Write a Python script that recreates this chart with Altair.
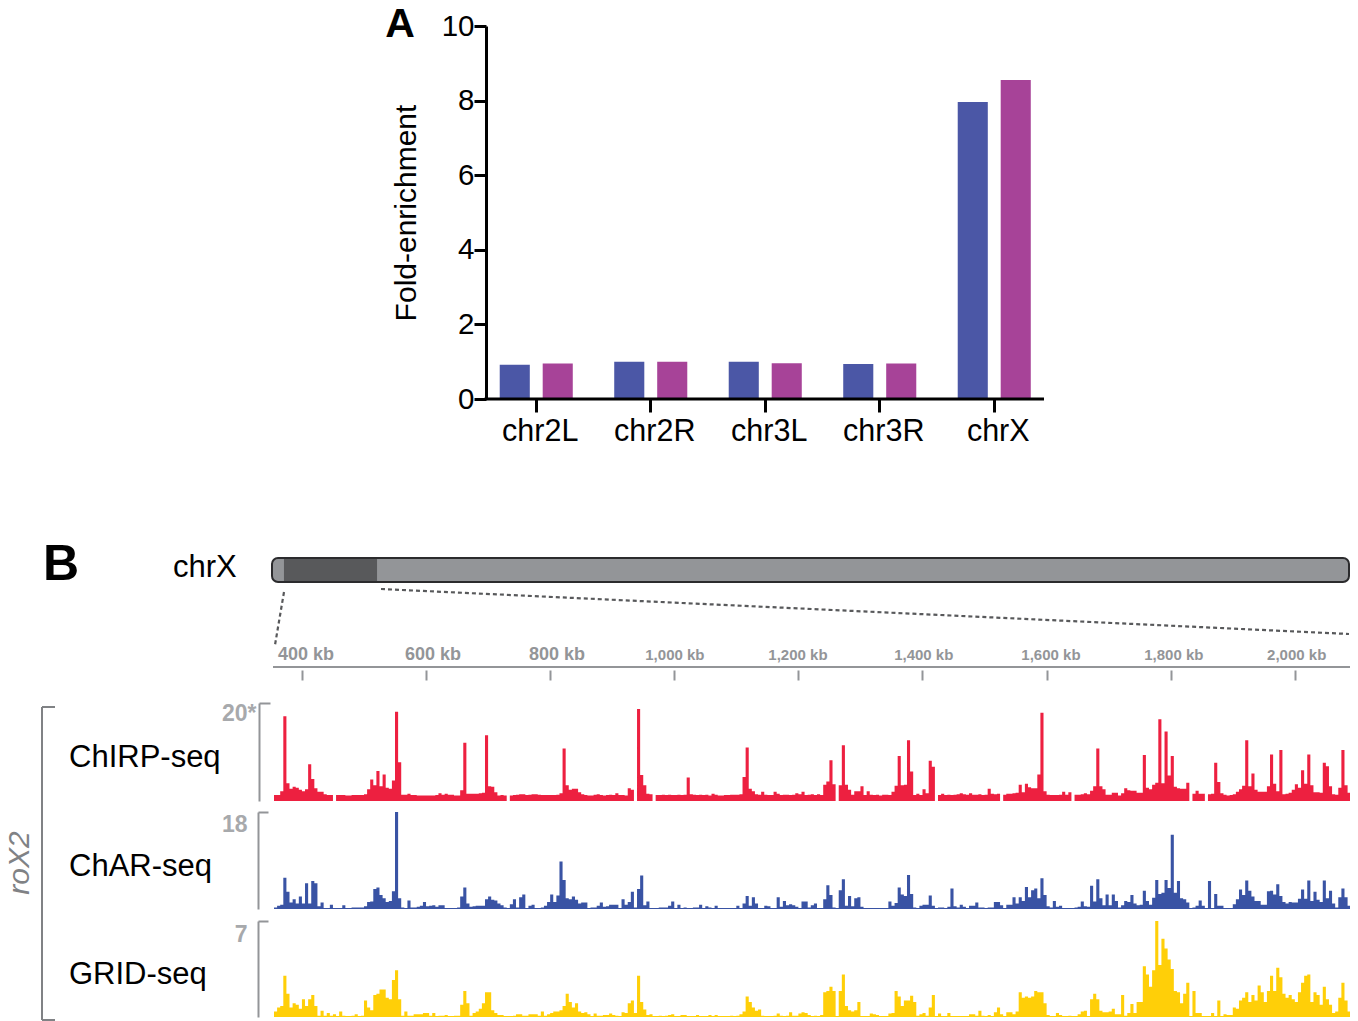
import altair as alt
import pandas as pd

FONT = "Liberation Sans"
W, H = 1342, 1013

chromosomes = ["chr2L", "chr2R", "chr3L", "chr3R", "chrX"]
series_names = ["ChIRP-seq", "ChAR-seq"]
enrich_a = [0.92, 1.0, 1.0, 0.94, 7.96]
enrich_b = [0.95, 1.0, 0.96, 0.95, 8.55]

tick_kb = [400, 600, 800, 1000, 1200, 1400, 1600, 1800, 2000]
tick_text = ["400 kb", "600 kb", "800 kb", "1,000 kb", "1,200 kb", "1,400 kb", "1,600 kb", "1,800 kb", "2,000 kb"]
label_kb = [406.6, 611.2, 811, 1001, 1199.3, 1402, 1607, 1805, 2003]
label_size = [18, 18, 18, 15, 15, 15, 15, 15, 15]

bin_start_kb = 355
bin_kb = 5

chirp = [
    1.2,1.2,2.0,17.3,3.6,2.5,2.9,2.7,2.3,2.0,
    2.4,7.5,4.5,2.6,1.9,1.9,1.4,1.2,1.2,0,
    1.2,1.2,1.2,1.1,1.1,1.2,1.2,1.2,1.2,1.4,
    2.4,4.4,3.2,6.1,3.0,5.4,2.7,2.5,4.2,18.2,
    7.9,1.3,1.3,1.5,1.2,1.2,1.1,1.1,1.1,1.1,
    1.1,1.1,1.2,1.6,1.3,1.5,1.3,1.3,1.1,1.1,
    2.2,11.9,1.5,1.5,1.5,1.5,1.6,1.7,13.4,3.0,
    2.9,1.8,1.1,1.2,1.1,0,1.1,1.2,1.3,1.4,
    1.4,1.2,1.3,1.4,1.4,1.3,1.2,1.2,1.2,1.2,
    1.2,1.3,1.6,10.7,3.2,2.3,2.5,2.5,1.8,1.4,
    1.2,1.1,1.1,1.3,1.4,1.2,1.1,1.2,1.3,1.2,
    1.6,1.2,1.2,1.1,2.6,2.3,0,18.8,5.3,3.2,
    1.5,1.4,0,1.2,1.2,1.3,1.2,1.3,1.2,1.2,
    1.3,1.2,1.3,4.8,1.4,1.3,1.2,1.3,1.2,1.3,
    1.1,1.5,1.3,1.1,1.1,1.2,1.2,1.3,1.3,1.3,
    1.4,4.9,10.9,2.5,2.0,1.4,1.3,1.9,1.3,1.2,
    1.2,1.9,1.5,1.2,1.3,1.3,1.2,1.3,1.6,1.4,
    1.9,1.2,1.3,1.4,1.2,1.4,1.2,3.3,4.0,8.3,
    3.4,0,3.2,11.4,3.3,2.3,1.3,2.0,2.0,3.0,
    1.2,2.0,1.3,1.2,1.3,1.1,1.3,1.3,1.2,1.9,
    3.1,9.2,3.2,3.3,12.4,6.0,1.2,1.5,1.2,2.4,
    1.6,8.2,7.0,0,1.2,1.5,1.2,1.3,1.2,1.3,
    1.4,1.6,1.4,1.3,1.6,1.3,1.3,1.4,1.2,1.3,
    2.5,1.5,1.4,1.5,0,1.3,1.5,1.5,1.6,1.7,
    3.3,1.8,3.5,2.8,2.6,2.6,5.4,18.0,2.0,1.3,
    1.2,1.2,1.2,1.3,1.9,1.3,1.8,0,1.3,1.3,
    1.4,1.6,1.4,2.1,3.0,10.7,3.0,2.4,1.3,1.3,
    1.7,1.7,1.1,1.6,2.6,2.2,2.1,2.1,1.7,1.7,
    9.4,2.7,2.4,3.3,3.7,16.7,3.6,14.2,5.2,9.2,
    2.9,2.6,2.5,2.5,3.7,0,1.5,2.1,1.5,1.5,
    0,1.4,1.5,7.8,3.9,1.6,1.3,1.1,1.2,1.4,
    1.9,2.4,3.1,12.4,3.0,5.6,2.3,1.9,1.9,1.9,
    3.0,9.5,3.5,2.0,10.4,1.4,1.5,1.7,2.3,3.4,
    2.7,6.3,3.5,9.5,3.2,1.8,1.8,1.7,7.8,7.1,
    3.0,1.4,1.3,2.7,10.4,3.2,1.7,1.6,1.5,1.5,
]

char = [
    .3,.6,.8,5.8,3.2,1.2,1.8,1.0,2.3,1.0,
    4.8,1.0,5.2,4.8,.5,1.2,.1,0,.8,.1,
    0,0,.7,.1,0,.3,.3,.3,.3,.5,
    1.3,1.4,3.7,4.0,2.6,2.0,1.3,1.5,3.3,18.0,
    2.0,.3,.1,1.6,.3,.3,.4,.6,1.3,.5,
    .6,.7,.4,.7,.7,.2,.1,.1,.2,.3,
    2.3,4.0,1.0,.4,.5,.6,.6,.6,1.8,2.3,
    1.7,1.6,1.0,.7,.3,0,.9,1.8,.3,2.2,
    2.7,.1,.6,.8,.2,.2,.3,.6,1.3,2.7,
    1.3,2.5,8.8,5.4,2.0,1.8,2.3,1.7,1.0,1.2,
    1.2,.2,.3,.3,.6,1.2,.4,.5,.8,.8,
    .8,.1,1.8,.8,1.3,3.2,.3,3.7,6.2,.7,
    1.4,0,0,.1,.3,.3,.3,.6,1.4,.1,
    .8,.1,.3,.2,.1,.3,.3,.8,.1,.5,
    .3,.1,.6,.1,.1,0,.1,.1,.1,.6,
    .1,1.0,2.4,.6,2.2,1.0,.1,.1,.6,.5,
    .2,.2,2.2,.4,1.5,.7,.9,.7,.4,.1,
    1.4,1.4,.3,.7,1.0,.2,.2,1.8,4.4,2.6,
    .3,0,3.5,5.5,.6,2.4,.5,2.0,2.2,.4,
    .1,.2,.1,.1,.1,.2,.2,.2,1.4,.6,
    1.1,4.0,2.7,2.4,6.3,2.8,.3,.1,.6,.8,
    .8,2.5,.6,0,.3,.3,0,.4,3.8,.5,
    .3,.8,.4,0,.6,.6,1.2,.3,.3,.1,
    .3,.3,1.3,1.3,.7,0,.8,.8,2.2,1.0,
    2.2,1.5,4.1,2.2,3.5,3.8,2.0,5.7,2.6,.5,
    .3,1.5,.4,.6,0,0,.1,0,.3,.4,
    1.4,.5,.4,4.3,1.4,5.5,2.0,.7,2.7,.7,
    2.7,1.5,.3,.7,1.5,1.3,2.6,1.0,.7,.8,
    3.4,1.5,.8,2.1,5.4,2.8,3.0,5.4,3.9,13.8,
    3.0,5.2,2.0,1.8,1.2,0,.3,.6,1.6,.6,
    0,5.2,0,2.8,.6,.6,0,.2,.2,.9,
    1.8,3.6,2.6,5.3,3.4,2.3,1.5,1.5,.8,.8,
    3.3,3.4,2.7,4.6,2.4,1.3,1.0,1.3,1.2,1.2,
    1.9,3.6,1.9,5.3,1.5,3.2,1.7,1.3,5.3,2.0,
    3.4,1.0,.3,2.2,3.8,2.2,.6,0,.6,.1,
]

grid = [
    .4,.7,.8,3.0,1.7,.7,1.0,.9,.6,1.3,
    .8,1.3,1.6,.8,.1,.45,.1,.3,.1,.2,
    0,.4,.1,.05,.05,.1,.2,.05,.1,1.2,
    .7,.5,1.6,1.7,2.0,2.0,1.4,1.3,2.7,3.4,
    1.3,.1,.4,.1,.1,.2,.2,.2,.3,.3,
    .1,.3,0,.1,.1,.15,.05,0,.1,.1,
    .9,1.9,1.0,.1,.3,.4,.6,1.0,1.8,1.8,
    .5,.3,.15,.15,0,.05,.05,.1,.2,.2,
    .1,.1,.2,.2,.2,.1,.4,.1,.2,.3,
    .4,.4,.5,.8,1.7,1.1,.7,1.0,.4,.3,
    .35,.2,.05,.25,.1,.1,.15,.15,.25,.15,
    .1,.05,.35,.3,1.0,1.2,.3,3.0,1.1,.55,
    .15,.2,0,.05,.1,0,.1,.15,.2,.05,
    .05,.15,.15,.05,0,0,.15,.05,.05,.05,
    .15,.05,.15,.05,0,0,.05,.1,.05,.1,
    .2,.4,1.5,1.1,.7,.45,.55,.1,0,.05,
    .05,.1,.25,.1,.05,.1,.35,.1,.1,.25,
    .35,.3,.15,.05,.1,.05,.15,1.8,1.9,2.2,
    1.9,0,1.9,3.1,.8,.5,.4,.5,1.1,.05,
    .05,0,.25,.2,.15,.05,.05,.05,.25,.3,
    1.9,1.5,.8,1.2,1.2,1.55,1.1,.1,.2,.3,
    .1,.7,1.6,.05,.25,0,0,.3,0,0,
    0,.05,0,0,.2,.2,.1,.45,.1,0,
    .15,.05,.35,.7,.2,0,.35,.35,.2,.4,
    1.8,1.4,1.5,1.4,1.5,1.9,1.8,1.8,1.0,.15,
    .05,0,.3,.15,0,0,.1,0,.05,.2,
    .4,.45,.05,1.3,1.7,1.3,.45,.35,.35,.4,
    .6,.2,.2,1.6,.1,.3,.95,.3,1.1,1.1,
    3.7,3.1,2.2,3.4,7.0,3.8,5.7,5.0,4.2,3.5,
    1.9,1.8,1.0,1.7,2.5,0,1.9,.3,.3,.05,
    0,.05,.3,.05,1.2,.05,.2,.15,.15,.7,
    .6,1.2,1.4,1.8,1.1,1.6,1.2,2.3,1.8,1.1,
    1.9,3.0,1.9,3.6,2.9,1.7,1.4,1.6,1.3,1.1,
    1.8,2.5,3.0,3.1,1.1,1.8,1.6,.9,2.2,1.3,
    .9,.3,.4,1.4,2.5,1.2,.4,.1,.6,.1,
]

chr_length_kb = 20250
dark_start_kb, dark_end_kb = 225, 1975


def track_frame(values):
    starts = [bin_start_kb + bin_kb * i for i in range(len(values))]
    starts.append(starts[-1] + bin_kb)
    return pd.DataFrame({"kb": starts, "v": list(values) + [values[-1]]})


kb_scale = alt.Scale(domain=[bin_start_kb, bin_start_kb + bin_kb * 350], range=[266, 1352], nice=False, zero=False)
GREY = "#939598"
LABEL_GREY = "#a7a9ac"


def track(values, color, ymax, bottom, top, axis_x, tick, label_right, label_expr, label_off):
    offset = axis_x - W
    return alt.Chart(track_frame(values)).mark_area(interpolate="step-after", color=color).encode(
        x=alt.X("kb:Q", scale=kb_scale, axis=None),
        y=alt.Y(
            "v:Q",
            scale=alt.Scale(domain=[0, ymax], range=[bottom, top], nice=False, zero=True),
            axis=alt.Axis(
                orient="right", offset=offset, values=[ymax], title=None, grid=False,
                domainColor=GREY, domainWidth=2, tickColor=GREY, tickWidth=2, tickSize=tick,
                labelColor=LABEL_GREY, labelFont=FONT, labelFontWeight="bold", labelFontSize=23,
                labelAlign="right", labelBaseline="middle", labelOffset=label_off,
                labelPadding=label_right - axis_x - tick, labelExpr=label_expr,
            ),
        ),
    )


def baseline(color, y):
    return alt.Chart().mark_rule(color=color, strokeWidth=1).encode(
        x=alt.value(266), x2=alt.value(W), y=alt.value(y))


# ---------- panel A ----------
bars_df = pd.DataFrame({
    "chr": chromosomes * 2,
    "series": [series_names[0]] * 5 + [series_names[1]] * 5,
    "v": enrich_a + enrich_b,
})
bars = alt.Chart(bars_df).mark_bar(cornerRadius=0).encode(
    x=alt.X(
        "chr:N", sort=chromosomes,
        scale=alt.Scale(domain=chromosomes, range=[471, 1043.5], paddingInner=0.362, paddingOuter=0.181),
        axis=alt.Axis(
            orient="bottom", offset=391 - H, title=None, labelAngle=0, domain=False, grid=False,
            tickColor="black", tickWidth=3, tickSize=13, labelColor="black", labelFont=FONT,
            labelFontSize=30.5, labelOffset=4, labelPadding=4.5,
        ),
    ),
    xOffset=alt.XOffset("series:N", sort=series_names,
                        scale=alt.Scale(domain=series_names, paddingInner=0.3, paddingOuter=0)),
    y=alt.Y(
        "v:Q",
        scale=alt.Scale(domain=[0, 10], range=[391, 18], nice=False),
        axis=alt.Axis(
            orient="left", offset=-478, values=[0, 2, 4, 6, 8, 10], title="Fold-enrichment", grid=False,
            domainColor="black", domainWidth=3, tickColor="black", tickWidth=3, tickSize=12,
            labelColor="black", labelFont=FONT, labelFontSize=29.5, labelPadding=0, labelBaseline="middle",
            titleFont=FONT, titleFontSize=30, titleFontWeight="normal", titleColor="black", titlePadding=20,
        ),
    ),
    color=alt.Color("series:N", scale=alt.Scale(domain=series_names, range=["#4b57a6", "#a74398"]), legend=None),
)
a_baseline = alt.Chart().mark_rule(color="black", strokeWidth=3).encode(
    x=alt.value(476.5), x2=alt.value(1036), y=alt.value(391))

# ---------- chromosome ideogram ----------
chr_scale = alt.Scale(domain=[0, chr_length_kb], range=[264, 1341], nice=False, zero=False)
chr_df = pd.DataFrame({"a": [0], "b": [chr_length_kb]})
dark_df = pd.DataFrame({"a": [dark_start_kb], "b": [dark_end_kb]})
chr_body = alt.Chart(chr_df).mark_rect(fill="#939598", stroke="#2b2b2d", strokeWidth=2, cornerRadius=6).encode(
    x=alt.X("a:Q", scale=chr_scale, axis=None), x2="b:Q", y=alt.value(550), y2=alt.value(574))
chr_dark = alt.Chart(dark_df).mark_rect(fill="#58595b").encode(
    x=alt.X("a:Q", scale=chr_scale, axis=None), x2="b:Q", y=alt.value(551), y2=alt.value(573))


def dashed(x1, y1, x2, y2):
    return alt.Chart().mark_rule(color="#58595b", strokeWidth=2.2, strokeDash=[4, 3]).encode(
        x=alt.value(x1), x2=alt.value(x2), y=alt.value(y1), y2=alt.value(y2))


zoom1 = dashed(276, 584, 267, 637)
zoom2 = dashed(373, 581, 1341, 626)

# ---------- genome axis ----------
axis_line = alt.Chart().mark_rule(color=GREY, strokeWidth=2).encode(
    x=alt.value(265), x2=alt.value(W), y=alt.value(659))
ticks = alt.Chart(pd.DataFrame({"kb": tick_kb})).mark_rule(opacity=0).encode(
    x=alt.X("kb:Q", scale=kb_scale, axis=alt.Axis(
        orient="bottom", offset=662 - H, values=tick_kb, labels=False, domain=False, grid=False,
        tickColor=GREY, tickWidth=2, tickSize=10, title=None)),
)
tick_labels = alt.Chart(pd.DataFrame({"kb": label_kb, "t": tick_text, "fs": label_size})).mark_text(
    font=FONT, fontWeight="bold", color=GREY, baseline="middle", align="center"
).encode(
    x=alt.X("kb:Q", scale=kb_scale, axis=None),
    y=alt.value(647),
    text="t:N",
    size=alt.Size("fs:Q", scale=None),
)

# ---------- tracks ----------
t1 = track(chirp, "#ed2040", 20, 793, 695, 251, 11, 248, 'datum.label + "*"', 10)
t2 = track(char, "#3953a4", 18, 901, 804, 250, 10, 239, "datum.label", 12)
t3 = track(grid, "#ffcf08", 7, 1009, 913, 250, 10, 239, "datum.label", 13)
b2 = baseline("#3953a4", 900.5)
b3 = baseline("#ffcf08", 1008.5)


def text(s, x, y, size=31, **kw):
    return alt.Chart(pd.DataFrame({"t": [s]})).mark_text(
        font=FONT, fontSize=size, align=kw.pop("align", "left"), baseline="middle", **kw
    ).encode(text="t:N", x=alt.value(x), y=alt.value(y))


labels = [
    text("A", 392, 17, size=41, fontWeight="bold", color="black", align="center"),
    text("B", 35, 557, size=50, fontWeight="bold", color="black"),
    text("chrX", 165, 560, color="black"),
    text("ChIRP-seq", 61, 750, color="black"),
    text("ChAR-seq", 61, 859, color="black"),
    text("GRID-seq", 61, 967, color="black"),
    text("roX2", 12, 855, size=30, fontStyle="italic", color="#808285", angle=270, align="center"),
]


def bracket(x1, y1, x2, y2):
    return alt.Chart().mark_rule(color="#808285", strokeWidth=2).encode(
        x=alt.value(x1), x2=alt.value(x2), y=alt.value(y1), y2=alt.value(y2))


brackets = [bracket(34, 699, 34, 1012), bracket(34, 699, 47, 699), bracket(34, 1012, 47, 1012)]

chart = alt.layer(
    chr_body, chr_dark, zoom1, zoom2, axis_line, ticks, tick_labels,
    b2, b3, t1, t2, t3, bars, a_baseline, *labels, *brackets
).resolve_scale(x="independent", y="independent", color="independent").resolve_axis(
    x="independent", y="independent"
).properties(
    width=W, height=H, padding=0, autosize=alt.AutoSizeParams(type="none"), background="white"
).configure_view(stroke=None)

chart.save("out.html", embed_options={"renderer": "svg", "actions": False})
